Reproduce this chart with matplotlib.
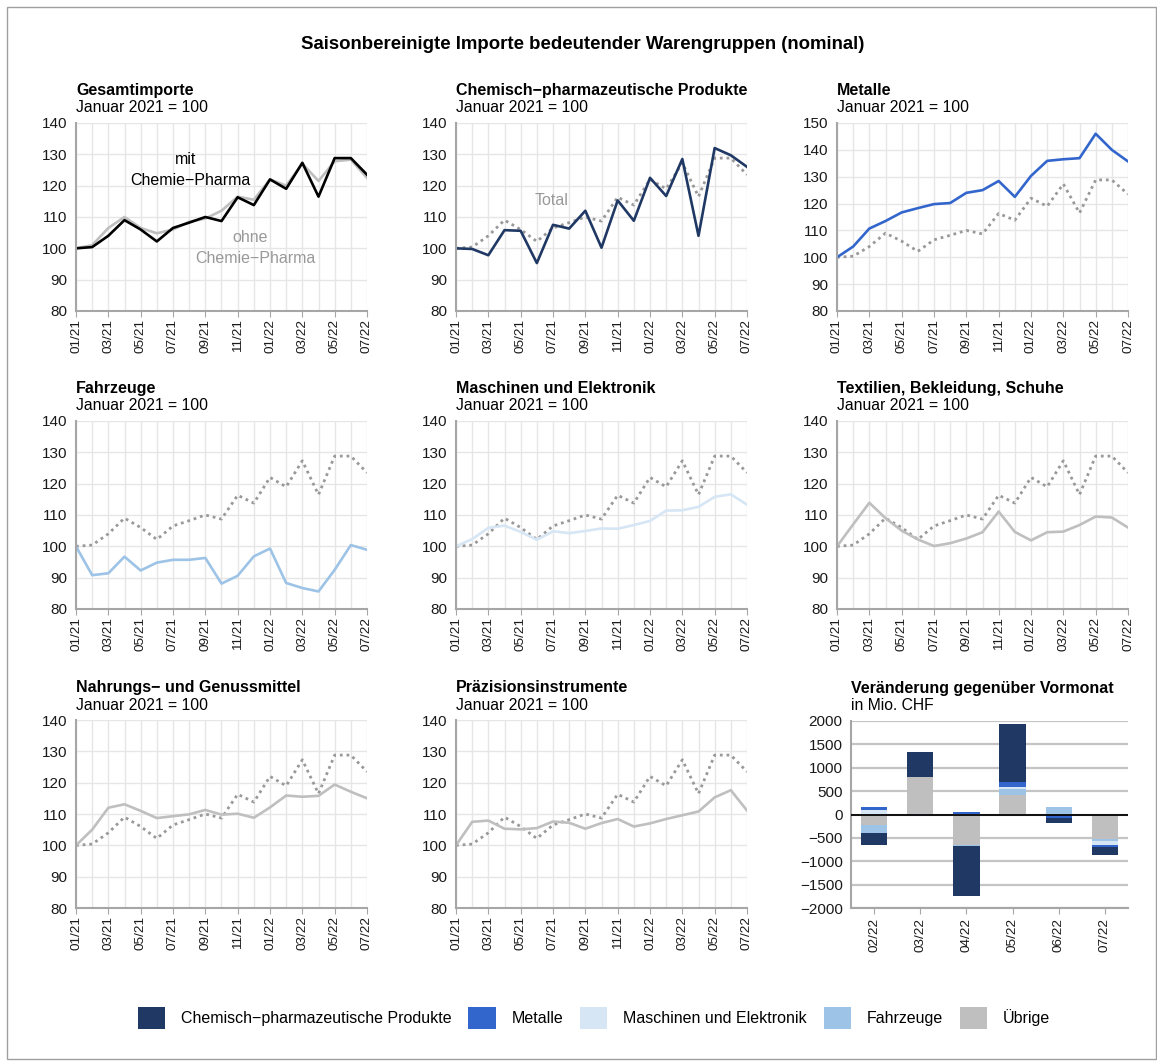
import matplotlib
matplotlib.use('Agg')
import matplotlib.pyplot as plt
import numpy as np
from matplotlib.patches import Rectangle, Patch

plt.rcParams['font.family'] = ['Liberation Sans', 'DejaVu Sans']
plt.rcParams['axes.unicode_minus'] = True

# ---------------- data ----------------
months = ['01/21', '02/21', '03/21', '04/21', '05/21', '06/21', '07/21', '08/21', '09/21',
          '10/21', '11/21', '12/21', '01/22', '02/22', '03/22', '04/22', '05/22', '06/22', '07/22']

total = [100, 100.4, 104, 109, 106, 102.2, 106.5, 108.2, 110, 108.7, 116.3, 113.8,
         122, 119, 127.3, 116.5, 128.8, 128.8, 123.5]
ohne_chemie = [100, 101, 106.5, 110, 106.5, 104.8, 106, 108.5, 109.5, 112, 116.5, 115.5,
               122, 120, 127, 121.5, 127.8, 128.3, 122.5]
chemie = [100, 99.8, 97.8, 105.8, 105.6, 95.3, 107.5, 106.3, 112, 100.2, 115.3, 108.8,
          122.5, 116.7, 128.5, 104, 132, 129.7, 126]
metalle = [100, 104, 110.7, 113.5, 116.7, 118.3, 119.8, 120.2, 124, 125, 128.4, 122.5,
           130.3, 135.9, 136.5, 136.9, 146, 140, 135.7]
fahrzeuge = [100, 90.8, 91.4, 96.7, 92.3, 94.8, 95.7, 95.7, 96.3, 88.1, 90.6, 96.8,
             99.3, 88.3, 86.7, 85.6, 92.5, 100.4, 98.9]
maschinen = [100, 102.3, 105.9, 106.6, 104.6, 102.1, 104.8, 104.2, 104.9, 105.7, 105.6, 106.8,
             108.1, 111.4, 111.5, 112.6, 115.8, 116.6, 113.3]
textilien = [100, 107, 113.9, 109, 105, 102.2, 100.1, 101, 102.5, 104.5, 111.1, 104.6,
             101.9, 104.5, 104.7, 106.8, 109.5, 109.2, 106]
nahrung = [100, 105, 112, 113.1, 111, 108.7, 109.3, 109.9, 111.3, 109.8, 110.1, 108.8,
           112.1, 115.9, 115.5, 115.8, 119.4, 117.1, 115]
praezision = [100, 107.5, 107.9, 105.3, 105.1, 105.5, 107.6, 107.2, 105.3, 107.1, 108.4, 106.0,
              107.0, 108.4, 109.6, 110.8, 115.3, 117.6, 111.1]

bar_months = ['02/22', '03/22', '04/22', '05/22', '06/22', '07/22']
bar_categories = ['Chemisch\u2212pharmazeutische Produkte', 'Metalle',
                  'Maschinen und Elektronik', 'Fahrzeuge', '\u00dcbrige']
bar_chemie = [-253, 528, -1077, 1225, -106, -169]
bar_metalle = [65, 0, 25, 106, -50, -42]
bar_maschinen = [90, 0, 20, 63, -20, -85]
bar_fahrzeuge = [-162, -25, -15, 127, 140, -42]
bar_uebrige = [-232, 810, -655, 408, 15, -521]

# ---------------- colours ----------------
C_CHEM = '#1f3864'
C_MET = '#3366cc'
C_MASCH = '#d6e6f5'
C_FAHR = '#9dc3e6'
C_UEB = '#bfbfbf'
C_TOTAL = '#999999'

W, H = 1157, 1061
fig = plt.figure(figsize=(W / 100, H / 100), dpi=100)


def px_axes(left, top, right, bottom):
    return fig.add_axes([left / W, 1 - bottom / H, (right - left) / W, (bottom - top) / H])


def px_text(x, y, s, **kw):
    fig.text(x / W, 1 - y / H, s, **kw)


# border
fig.patches.append(Rectangle((7 / W, 2 / H), (W - 8) / W, (H - 9) / H, transform=fig.transFigure,
                             fill=False, edgecolor='#a0a0a0', lw=1))

px_text(583, 49, 'Saisonbereinigte Importe bedeutender Warengruppen (nominal)',
        ha='center', va='baseline', fontsize=13.4, fontweight='bold')

cols = [76, 456, 837]
rows = [123, 421, 720]
AW, AH = 291, 188
FS_T = 11.5


def style_line_ax(ax, ymin, ymax):
    n = len(months)
    ax.set_xlim(0, n - 1)
    ax.set_ylim(ymin, ymax)
    ax.set_yticks(np.arange(ymin, ymax + 1, 10))
    ax.set_xticks(range(0, n, 2))
    ax.set_xticklabels(months[::2], rotation=90, fontsize=9.7)
    ax.set_xticks(range(n), minor=True)
    ax.grid(True, which='both', axis='x', color='#e6e6e6', lw=1)
    ax.grid(True, which='major', axis='y', color='#e6e6e6', lw=1)
    ax.tick_params(axis='x', which='major', length=4, color='#a6a6a6', pad=2, labelcolor='#1a1a1a')
    ax.tick_params(axis='x', which='minor', length=0)
    ax.tick_params(axis='y', length=0, pad=6, labelsize=11, labelcolor='#1a1a1a')
    for s in ['top', 'right']:
        ax.spines[s].set_visible(False)
    for s in ['left', 'bottom']:
        ax.spines[s].set_color('#a6a6a6')
        ax.spines[s].set_linewidth(1.5)
    ax.set_axisbelow(True)


def heading(left, top, title, sub):
    px_text(left, top - 28, title, ha='left', va='baseline', fontsize=FS_T, fontweight='bold')
    px_text(left, top - 10.5, sub, ha='left', va='baseline', fontsize=11.3)


x = np.arange(len(months))
LW = 1.9
DOT = dict(color=C_TOTAL, lw=2.0, linestyle=(0, (1, 1.4)))

panels = [
    ('Gesamtimporte', None, None, 80, 140, 0, 0),
    ('Chemisch\u2212pharmazeutische Produkte', chemie, C_CHEM, 80, 140, 1, 0),
    ('Metalle', metalle, C_MET, 80, 150, 2, 0),
    ('Fahrzeuge', fahrzeuge, C_FAHR, 80, 140, 0, 1),
    ('Maschinen und Elektronik', maschinen, C_MASCH, 80, 140, 1, 1),
    ('Textilien, Bekleidung, Schuhe', textilien, C_UEB, 80, 140, 2, 1),
    ('Nahrungs\u2212 und Genussmittel', nahrung, C_UEB, 80, 140, 0, 2),
    ('Pr\u00e4zisionsinstrumente', praezision, C_UEB, 80, 140, 1, 2),
]

for title, series, color, ymin, ymax, c, r in panels:
    left, top = cols[c], rows[r]
    ax = px_axes(left, top, left + AW, top + AH)
    style_line_ax(ax, ymin, ymax)
    heading(left, top, title, 'Januar 2021 = 100')
    if series is None:
        ax.plot(x, ohne_chemie, color=C_UEB, lw=LW)
        ax.plot(x, total, color='black', lw=LW)
        ax.text(6.8, 128.5, 'mit', ha='center', va='center', fontsize=11.5, color='black')
        ax.text(7.05, 121.5, 'Chemie\u2212Pharma', ha='center', va='center', fontsize=11.5, color='black')
        ax.text(10.8, 103.6, 'ohne', ha='center', va='center', fontsize=11.5, color='#999999')
        ax.text(11.07, 96.9, 'Chemie\u2212Pharma', ha='center', va='center', fontsize=11.5, color='#999999')
    else:
        ax.plot(x, total, **DOT)
        ax.plot(x, series, color=color, lw=LW)
        if c == 1 and r == 0:
            ax.text(5.94, 115.4, 'Total', ha='center', va='center', fontsize=11.5, color='#999999')

# ---------------- bar chart ----------------
bx0, by0, bx1, by1 = 851, 721, 1128, 908
bax = px_axes(bx0, by0, bx1, by1)
heading(bx0, by0, 'Ver\u00e4nderung gegen\u00fcber Vormonat', 'in Mio. CHF')

stack_order = [bar_uebrige, bar_fahrzeuge, bar_maschinen, bar_metalle, bar_chemie]
stack_colors = [C_UEB, C_FAHR, C_MASCH, C_MET, C_CHEM]
bx = np.arange(len(bar_months))
pos_base = np.zeros(len(bar_months))
neg_base = np.zeros(len(bar_months))
for vals, col in zip(stack_order, stack_colors):
    v = np.array(vals, dtype=float)
    pos = np.where(v > 0, v, 0)
    neg = np.where(v < 0, v, 0)
    bax.bar(bx, pos, bottom=pos_base, width=0.57, color=col, lw=0, zorder=2)
    bax.bar(bx, neg, bottom=neg_base, width=0.57, color=col, lw=0, zorder=2)
    pos_base += pos
    neg_base += neg

bax.set_xlim(-0.5, len(bar_months) - 0.5)
bax.set_ylim(-2000, 2000)
bax.set_yticks(np.arange(-2000, 2001, 500))
bax.set_xticks(bx)
bax.set_xticklabels(bar_months, rotation=90, fontsize=9.7)
bax.grid(True, axis='y', color='#c4c4c4', lw=1.6, zorder=0)
bax.axhline(0, color='black', lw=1.3, zorder=3)
bax.tick_params(axis='x', length=4, color='#a6a6a6', pad=3, labelcolor='#1a1a1a')
bax.tick_params(axis='y', length=0, pad=6, labelsize=11, labelcolor='#1a1a1a')
for s in ['top', 'right']:
    bax.spines[s].set_visible(False)
for s in ['left', 'bottom']:
    bax.spines[s].set_color('#a6a6a6')
    bax.spines[s].set_linewidth(1.5)
bax.set_axisbelow(True)

# ---------------- legend ----------------
legend_colors = [C_CHEM, C_MET, C_MASCH, C_FAHR, C_UEB]
handles = [Patch(facecolor=col, edgecolor='none') for col in legend_colors]
fig.legend(handles, bar_categories, ncol=5, loc='center',
           bbox_to_anchor=(594 / W, 1 - 1018 / H), frameon=False, fontsize=11.5,
           handlelength=1.7, handleheight=1.7, handletextpad=1.0, columnspacing=1.05,
           borderaxespad=0)

fig.savefig('out.png', dpi=100)
